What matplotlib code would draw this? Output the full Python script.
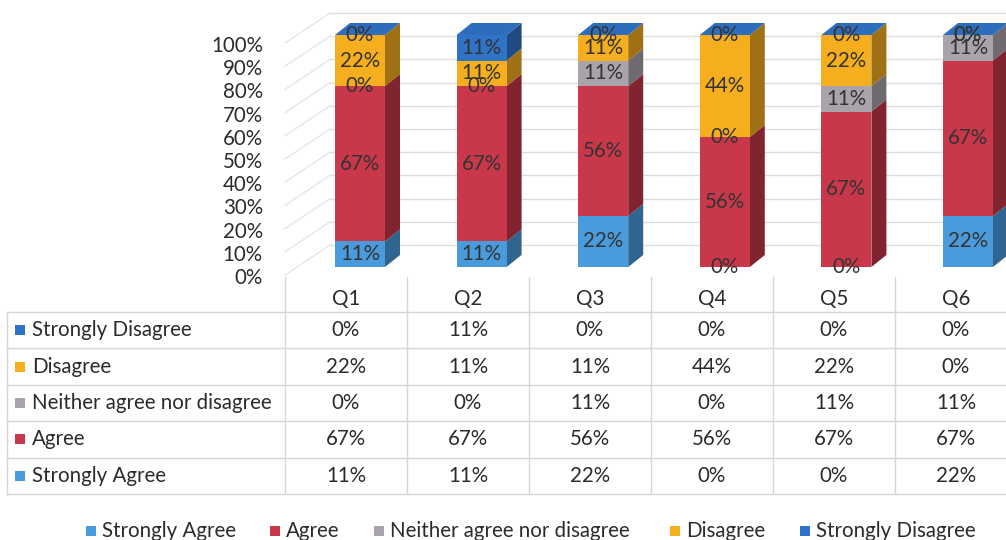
import matplotlib.pyplot as plt
from matplotlib.patches import Polygon, Rectangle
from matplotlib.colors import to_rgb

plt.rcParams["font.family"] = ["Lato", "DejaVu Sans"]

questions = ["Q1", "Q2", "Q3", "Q4", "Q5", "Q6"]
series_names = ["Strongly Agree", "Agree", "Neither agree nor disagree",
                "Disagree", "Strongly Disagree"]
strongly_agree = [11, 11, 22, 0, 0, 22]
agree = [67, 67, 56, 56, 67, 67]
neither = [0, 0, 11, 0, 11, 11]
disagree = [22, 11, 11, 44, 22, 0]
strongly_disagree = [0, 11, 0, 0, 0, 0]
series_values = [strongly_agree, agree, neither, disagree, strongly_disagree]
colors = ["#4A9BDC", "#C8374A", "#A9A3AB", "#F5AE1E", "#2F73C6"]
y_ticks = list(range(0, 101, 10))

W, H = 1006, 540
FS = 14.8
TXT = "#2b2b2b"

# pixel geometry of the fake 3-D plot (front plane)
X0_PX, PX_PER_CAT = 360, 121.6
Y0_PX, PX_PER_PCT = 267, 2.32
AX_BOTTOM_PX = 290
BAR_W = 50 / PX_PER_CAT
DX, DY = 15 / PX_PER_CAT, 12 / PX_PER_PCT
WALL_DY = 22 / PX_PER_PCT


def shade(c, f):
    r, g, b = to_rgb(c)
    return (r * f, g * f, b * f)


fig = plt.figure(figsize=(W / 100, H / 100), dpi=100)

# table / legend layer in pixel coordinates
tab = fig.add_axes([0, 0, 1, 1])
tab.set_xlim(0, W)
tab.set_ylim(H, 0)
tab.axis("off")

ax = fig.add_axes([0, 1 - AX_BOTTOM_PX / H, 1, AX_BOTTOM_PX / H])
ax.set_xlim(-X0_PX / PX_PER_CAT, (W - X0_PX) / PX_PER_CAT)
ax.set_ylim(-(AX_BOTTOM_PX - Y0_PX) / PX_PER_PCT, Y0_PX / PX_PER_PCT)
ax.axis("off")
ax.patch.set_alpha(0)

# walls
x_back = (330 - X0_PX) / PX_PER_CAT
x_side = (285 - X0_PX) / PX_PER_CAT
side_drop = 30 / PX_PER_PCT
for t in y_ticks:
    yb = t + WALL_DY
    ax.plot([x_back, ax.get_xlim()[1]], [yb, yb], color="#dedede", lw=1, zorder=0)
    ax.plot([x_side, x_back], [yb - side_drop, yb], color="#e6e6e6", lw=1, zorder=0)
    ax.text((263 - X0_PX) / PX_PER_CAT, t - 11 / PX_PER_PCT, f"{t}%",
            ha="right", va="center", fontsize=FS, color=TXT)

# bars
xs = list(range(len(questions)))
bottoms = [0] * len(questions)
for j, (vals, c) in enumerate(zip(series_values, colors)):
    ax.bar(xs, vals, width=BAR_W, bottom=bottoms, color=c, zorder=3, linewidth=0)
    for i, v in enumerate(vals):
        b = bottoms[i]
        xr = i + BAR_W / 2
        if v > 0:
            ax.add_patch(Polygon([(xr, b), (xr + DX, b + DY), (xr + DX, b + v + DY), (xr, b + v)],
                                 closed=True, fc=shade(c, 0.65), ec="none", zorder=2))
        if j == len(series_values) - 1:
            top = b + v
            xl = i - BAR_W / 2
            ax.add_patch(Polygon([(xl, top), (xl + DX, top + DY), (xr + DX, top + DY), (xr, top)],
                                 closed=True, fc=shade(c, 0.95), ec="none", zorder=3))
        ax.text(i, b + v / 2, f"{v}%", ha="center", va="center", fontsize=FS,
                color="#333333", zorder=5)
    bottoms = [b + v for b, v in zip(bottoms, vals)]

# data table
col_left = 285
col_w = 122
row_top = 312
row_h = 36.4
n_rows = len(series_names)
line_c = "#d6d6d6"
table_bottom = row_top + n_rows * row_h
for k in range(len(questions) + 1):
    x = col_left + k * col_w
    tab.plot([x, x], [277, table_bottom], color=line_c, lw=1)
tab.plot([7, 7], [row_top, table_bottom], color=line_c, lw=1)
for r in range(n_rows + 1):
    y = row_top + r * row_h
    tab.plot([7, W], [y, y], color=line_c, lw=1)

for k, q in enumerate(questions):
    tab.text(col_left + (k + 0.5) * col_w, 299, q, ha="center", va="center",
             fontsize=FS, color=TXT)

for r, j in enumerate(reversed(range(n_rows))):
    yc = row_top + (r + 0.5) * row_h
    tab.add_patch(Rectangle((15, yc - 5), 10, 10, fc=colors[j], ec="none"))
    tab.text(32, yc, series_names[j], ha="left", va="center", fontsize=FS, color=TXT)
    for k, v in enumerate(series_values[j]):
        tab.text(col_left + (k + 0.5) * col_w, yc, f"{v}%", ha="center", va="center",
                 fontsize=FS, color=TXT)

# legend
leg_x = [86, 270, 374, 670, 800]
leg_y = 531
for x, name, c in zip(leg_x, series_names, colors):
    tab.add_patch(Rectangle((x, leg_y - 5), 10, 10, fc=c, ec="none"))
    tab.text(x + 16, leg_y, name, ha="left", va="center", fontsize=FS, color=TXT)

fig.savefig("out.png", dpi=100, facecolor="white")
